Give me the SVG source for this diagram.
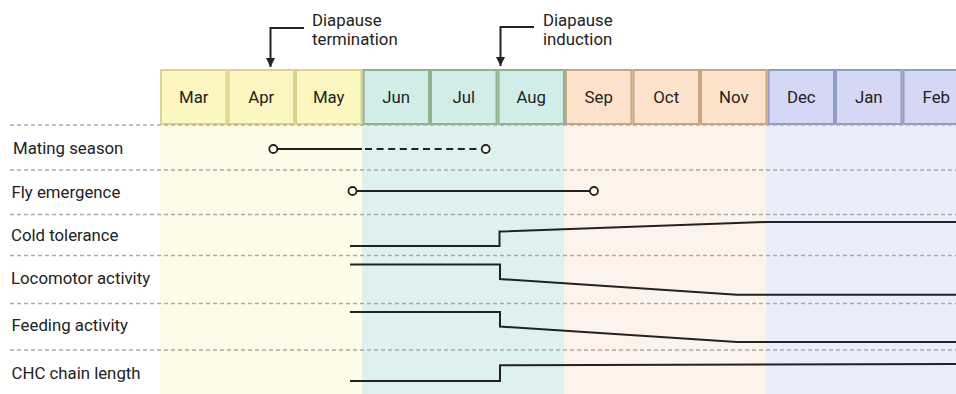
<svg xmlns="http://www.w3.org/2000/svg" width="956" height="394" viewBox="0 0 956 394">
<defs>
<style>
text{font-family:Roboto,"Liberation Sans",sans-serif;font-size:16.8px;fill:#222}
.m{text-anchor:middle}
.by{fill:#fcf7c0;stroke:#ddd38a;stroke-width:2}
.bg{fill:#d2ede8;stroke:#8db48e;stroke-width:2}
.bo{fill:#fde2cc;stroke:#c9a67e;stroke-width:2}
.bb{fill:#d4d8f4;stroke:#8f9bc8;stroke-width:2}
.grid{stroke:#aaaaaa;stroke-width:1.5;stroke-dasharray:4 3;fill:none}
.ln{stroke:#222;stroke-width:2;fill:none}
.dot{fill:#fffdf2;stroke:#222;stroke-width:1.8}
</style>
<marker id="ah" viewBox="0 0 10 10" refX="10" refY="5" markerUnits="userSpaceOnUse" markerWidth="9" markerHeight="9" orient="auto">
<path d="M0,0 L10,5 L0,10 z" fill="#222"/>
</marker>
</defs>

<g id="season-backgrounds">
<rect x="160" y="125" width="202" height="269" fill="#fefce8"/>
<rect x="362" y="125" width="202" height="269" fill="#def1ef"/>
<rect x="564" y="125" width="202" height="269" fill="#fdf3eb"/>
<rect x="766" y="125" width="190" height="269" fill="#ebedfb"/>
</g>

<g id="months">
<g id="m-mar"><rect class="by" x="161" y="70" width="65.5" height="54"/><text class="m" x="193.75" y="103">Mar</text></g>
<g id="m-apr"><rect class="by" x="228.5" y="70" width="65.5" height="54"/><text class="m" x="261.25" y="103">Apr</text></g>
<g id="m-may"><rect class="by" x="296" y="70" width="65.5" height="54"/><text class="m" x="328.75" y="103">May</text></g>
<g id="m-jun"><rect class="bg" x="363.5" y="70" width="65.5" height="54"/><text class="m" x="396.25" y="103">Jun</text></g>
<g id="m-jul"><rect class="bg" x="431" y="70" width="65.5" height="54"/><text class="m" x="463.75" y="103">Jul</text></g>
<g id="m-aug"><rect class="bg" x="498.5" y="70" width="65.5" height="54"/><text class="m" x="531.25" y="103">Aug</text></g>
<g id="m-sep"><rect class="bo" x="566" y="70" width="65.5" height="54"/><text class="m" x="598.75" y="103">Sep</text></g>
<g id="m-oct"><rect class="bo" x="633.5" y="70" width="65.5" height="54"/><text class="m" x="666.25" y="103">Oct</text></g>
<g id="m-nov"><rect class="bo" x="701" y="70" width="65.5" height="54"/><text class="m" x="733.75" y="103">Nov</text></g>
<g id="m-dec"><rect class="bb" x="768.5" y="70" width="65.5" height="54"/><text class="m" x="801.25" y="103">Dec</text></g>
<g id="m-jan"><rect class="bb" x="836" y="70" width="65.5" height="54"/><text class="m" x="868.75" y="103">Jan</text></g>
<g id="m-feb"><rect class="bb" x="903.5" y="70" width="65.5" height="54"/><text class="m" x="936.25" y="103">Feb</text></g>
</g>

<g id="grid">
<path class="grid" d="M10,125H956M10,170H956M10,214.5H956M10,255.5H956M10,303.5H956M10,350H956"/>
</g>

<g id="row-labels">
<text id="l-mating" x="13" y="154">Mating season</text>
<text id="l-fly" x="11.5" y="198">Fly emergence</text>
<text id="l-cold" x="11" y="241">Cold tolerance</text>
<text id="l-loco" x="11" y="284">Locomotor activity</text>
<text id="l-feed" x="11.5" y="331">Feeding activity</text>
<text id="l-chc" x="11.5" y="379">CHC chain length</text>
</g>

<g id="annotations">
<g id="diapause-termination">
<path class="ln" d="M304,28H270.5V67" marker-end="url(#ah)"/>
<text x="312" y="26">Diapause</text>
<text x="312" y="45">termination</text>
</g>
<g id="diapause-induction">
<path class="ln" d="M534,27H500.5V66" marker-end="url(#ah)"/>
<text x="543" y="26">Diapause</text>
<text x="543" y="45">induction</text>
</g>
</g>

<g id="connectors">
<path class="ln" d="M273,149H362"/>
<path class="ln" d="M365,149H477" stroke-dasharray="7 4.6"/>
<circle class="dot" cx="273.3" cy="149" r="4"/>
<circle class="dot" cx="485.7" cy="149" r="4"/>
<path class="ln" d="M352.5,191H594"/>
<circle class="dot" cx="352.5" cy="191" r="4"/>
<circle class="dot" cx="594" cy="191" r="4"/>
<path class="ln" d="M350,246H499.5V231.5L766,222H956"/>
<path class="ln" d="M350,264.5H500V279L737,294.7H956"/>
<path class="ln" d="M350,312H500V326.5L737,342H956"/>
<path class="ln" d="M350,381H500V365.3L956,364"/>
</g>
</svg>
